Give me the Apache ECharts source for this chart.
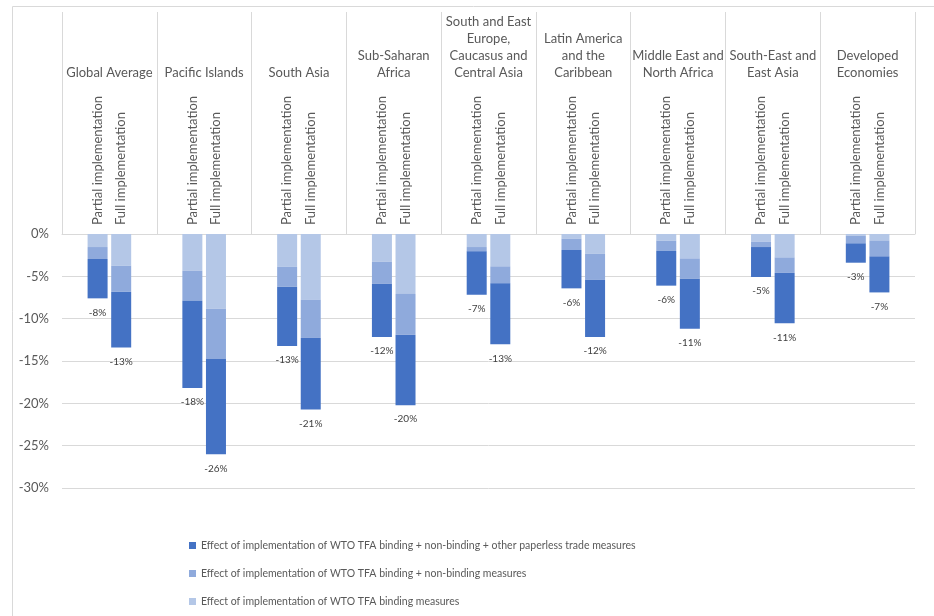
<!DOCTYPE html>
<html>
<head>
<meta charset="utf-8">
<script src="https://cdn.jsdelivr.net/npm/echarts@6/dist/echarts.min.js"></script>
<style>
  html, body { margin: 0; padding: 0; background: #fff; }
  #chart { width: 934px; height: 616px; }
</style>
</head>
<body>
<div id="chart"></div>
<script>
// ---- Data ----
const regions = [
  'Global Average',
  'Pacific Islands',
  'South Asia',
  'Sub-Saharan\nAfrica',
  'South and East\nEurope,\nCaucasus and\nCentral Asia',
  'Latin America\nand the\nCaribbean',
  'Middle East and\nNorth Africa',
  'South-East and\nEast Asia',
  'Developed\nEconomies'
];
const scenarios = ['Partial implementation', 'Full implementation'];
const seriesNames = [
  'Effect of implementation of WTO TFA binding + non-binding + other paperless trade measures',
  'Effect of implementation of WTO TFA binding + non-binding measures',
  'Effect of implementation of WTO TFA binding measures'
];
const yTicks = [-30, -25, -20, -15, -10, -5, 0];

// stacked segments (percent), partial implementation
const partialBinding    = [-1.54, -4.33, -3.86, -3.27, -1.54, -0.55, -0.79, -0.90, -0.20];
const partialNonBinding = [-1.41, -3.51, -2.36, -2.60, -0.51, -1.34, -1.21, -0.64, -0.90];
const partialPaperless  = [-4.65, -10.34, -7.00, -6.29, -5.12, -4.53, -4.10, -3.54, -2.29];
// stacked segments (percent), full implementation
const fullBinding    = [-3.74, -8.82, -7.76, -7.08, -3.82, -2.33, -2.88, -2.76, -0.76];
const fullNonBinding = [-3.07, -5.94, -4.52, -4.81, -2.01, -3.07, -2.40, -1.81, -1.88];
const fullPaperless  = [-6.61, -11.26, -8.46, -8.34, -7.20, -6.76, -5.90, -5.98, -4.26];

// ---- Build ----
const colors = { dark: '#4472C4', mid: '#8FAADC', light: '#B4C7E7' };
const FONT = 'Lato, "Noto Sans", sans-serif';
const slots = [];
regions.forEach(() => { slots.push('', scenarios[0], scenarios[1], ''); });

const totals = {
  partial: partialBinding.map((v, i) => v + partialNonBinding[i] + partialPaperless[i]),
  full: fullBinding.map((v, i) => v + fullNonBinding[i] + fullPaperless[i])
};

function seg(name, stack, data, color, withLabel) {
  const s = {
    name: name, type: 'bar', stack: stack, data: data,
    xAxisIndex: 0, yAxisIndex: 0,
    barWidth: 20, barGap: '18%',
    itemStyle: { color: color },
    emphasis: { disabled: true }
  };
  if (withLabel) {
    s.label = {
      show: true, position: 'bottom', distance: 9,
      fontFamily: FONT, fontSize: 10, color: '#404040',
      formatter: p => Math.round(totals[stack][p.dataIndex]) + '%'
    };
  }
  return s;
}

const option = {
  animation: false,
  textStyle: { fontFamily: FONT },
  graphic: [{
    type: 'rect', left: 10, top: 4, silent: true,
    shape: { width: 922, height: 640 },
    style: { fill: 'none', stroke: '#d9d9d9', lineWidth: 1 }
  }],
  legend: {
    orient: 'vertical', left: 184, top: 534,
    itemWidth: 7, itemHeight: 7, itemGap: 15,
    icon: 'rect',
    textStyle: { fontFamily: FONT, fontSize: 10.5, lineHeight: 13, color: '#595959' },
    data: seriesNames
  },
  grid: [
    { left: 62, right: 19, top: 234, height: 254 },
    { left: 62, right: 19, top: 12, height: 222 }
  ],
  xAxis: [
    {
      gridIndex: 0, type: 'category', data: regions, position: 'top',
      axisLine: { show: true, lineStyle: { color: '#d9d9d9' } },
      axisTick: { show: false }, axisLabel: { show: false }, splitLine: { show: false }
    },
    {
      gridIndex: 1, type: 'category', data: regions, position: 'top', offset: -69,
      axisLine: { show: false }, axisTick: { show: false },
      axisLabel: { interval: 0, margin: 0, fontSize: 13, lineHeight: 17, color: '#595959', fontFamily: FONT },
      splitLine: { show: true, interval: 0, lineStyle: { color: '#d9d9d9' } }
    },
    {
      gridIndex: 1, type: 'category', data: slots, position: 'bottom',
      axisLine: { show: false }, axisTick: { show: false },
      axisLabel: { interval: 0, inside: true, rotate: 90, margin: 9, fontSize: 13, color: '#595959', fontFamily: FONT },
      splitLine: { show: false }
    }
  ],
  yAxis: [
    {
      gridIndex: 0, type: 'value', min: yTicks[0], max: yTicks[yTicks.length - 1], interval: 5,
      axisLine: { show: false }, axisTick: { show: false },
      axisLabel: { formatter: v => v + '%', fontSize: 13, color: '#595959', margin: 13, fontFamily: FONT },
      splitLine: { show: true, lineStyle: { color: '#d9d9d9' } }
    },
    { gridIndex: 1, type: 'value', min: 0, max: 1, show: false }
  ],
  series: [
    seg(seriesNames[2], 'partial', partialBinding, colors.light, false),
    seg(seriesNames[1], 'partial', partialNonBinding, colors.mid, false),
    seg(seriesNames[0], 'partial', partialPaperless, colors.dark, true),
    seg(seriesNames[2], 'full', fullBinding, colors.light, false),
    seg(seriesNames[1], 'full', fullNonBinding, colors.mid, false),
    seg(seriesNames[0], 'full', fullPaperless, colors.dark, true)
  ]
};

const chart = echarts.init(document.getElementById('chart'), null, { renderer: 'canvas' });
chart.setOption(option);
</script>
</body>
</html>
